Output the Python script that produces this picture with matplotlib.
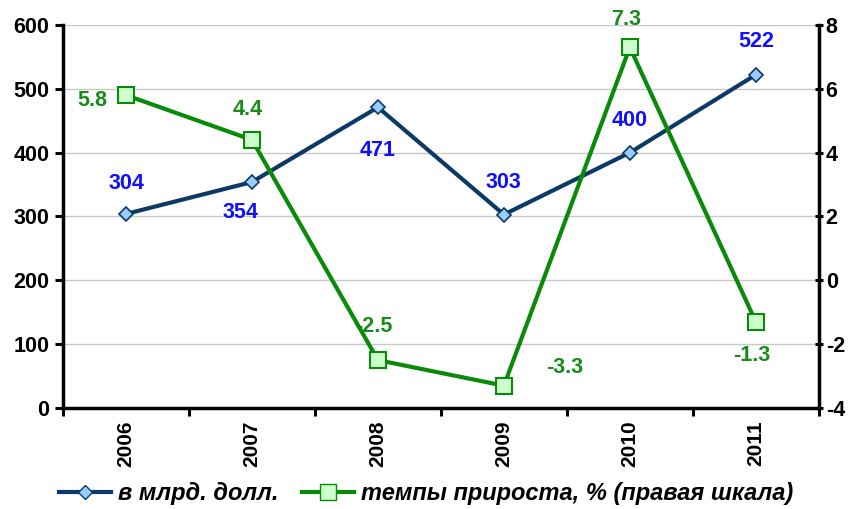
import matplotlib
matplotlib.use("Agg")
import matplotlib.pyplot as plt
from matplotlib.lines import Line2D

plt.rcParams['font.family'] = ['Liberation Sans', 'DejaVu Sans']
plt.rcParams['axes.unicode_minus'] = False

years = ["2006", "2007", "2008", "2009", "2010", "2011"]
volume = [304, 354, 471, 303, 400, 522]
growth = [5.8, 4.4, -2.5, -3.3, 7.3, -1.3]
left_ticks = [0, 100, 200, 300, 400, 500, 600]
right_ticks = [-4, -2, 0, 2, 4, 6, 8]

navy = "#0b3a66"
green = "#0a8a0a"
label_blue = "#1010ff"
label_green = "#1a8a1a"

fig = plt.figure(figsize=(8.53, 5.09), dpi=100)
ax = fig.add_axes([0.0739, 0.1984, 0.886, 0.7526])
ax2 = ax.twinx()

x = list(range(len(years)))
ax.set_xlim(-0.5, len(years) - 0.5)
ax.set_ylim(0, 600)
ax2.set_ylim(-4, 8)

ax.set_yticks(left_ticks)
ax2.set_yticks(right_ticks)
ax.grid(axis='y', color='#c8c8c8', linewidth=1)
ax.set_axisbelow(True)

ax.plot(x, volume, color=navy, linewidth=3, marker='D', markersize=7.5,
        markerfacecolor='#99ccff', markeredgecolor=navy, markeredgewidth=1.2,
        zorder=5)
ax2.plot(x, growth, color=green, linewidth=3, marker='s', markersize=11,
         markerfacecolor='#ccffcc', markeredgecolor=green, markeredgewidth=1.5,
         zorder=5)

# value labels
vol_off = [(0, 22), (-8, -22), (0, -31), (0, 23), (0, 23), (0, 24)]
for xi, v, (dx, dy) in zip(x, volume, vol_off):
    ax.annotate(f"{v}", (xi, v), xytext=(dx, dy), textcoords='offset points',
                ha='center', va='center', fontsize=15.5, fontweight='bold',
                color=label_blue)
gr_off = [(-24, -4), (-3, 22), (-3, 24), (44, 13), (-3, 20), (-3, -24)]
for xi, g, (dx, dy) in zip(x, growth, gr_off):
    ax2.annotate(f"{g}", (xi, g), xytext=(dx, dy), textcoords='offset points',
                 ha='center', va='center', fontsize=15.5, fontweight='bold',
                 color=label_green)

# axes styling
for a in (ax, ax2):
    for s in a.spines.values():
        s.set_visible(False)
ax.spines['left'].set_visible(True)
ax.spines['left'].set_linewidth(2.5)
ax.spines['bottom'].set_visible(True)
ax.spines['bottom'].set_linewidth(2.5)
ax2.spines['right'].set_visible(True)
ax2.spines['right'].set_linewidth(2.5)

ax.set_xticks([i - 0.5 for i in range(len(years) + 1)], minor=False)
ax.set_xticklabels([])
ax.tick_params(axis='x', which='major', length=6, width=2.2, direction='out')
ax.set_xticks(x, minor=True)
ax.set_xticklabels(years, minor=True, rotation=90, fontsize=15,
                   fontweight='bold')
ax.tick_params(axis='x', which='minor', length=0, pad=9)

ax.tick_params(axis='y', length=6, width=2.2, labelsize=15.5, pad=4)
ax2.tick_params(axis='y', length=6, width=2.2, direction='inout',
                labelsize=15.5, pad=2)
for lbl in ax.get_yticklabels() + ax2.get_yticklabels():
    lbl.set_fontweight('bold')

handles = [
    Line2D([], [], color=navy, linewidth=3, marker='D', markersize=7.5,
           markerfacecolor='#99ccff', markeredgecolor=navy),
    Line2D([], [], color=green, linewidth=3, marker='s', markersize=11,
           markerfacecolor='#ccffcc', markeredgecolor=green),
]
fig.legend(handles, ["в млрд. долл.", "темпы прироста, % (правая шкала)"],
           loc='center', bbox_to_anchor=(0.5, 0.03), ncol=2, frameon=False,
           prop={'family': ['Liberation Sans Narrow', 'Liberation Sans'],
                 'size': 17, 'weight': 'bold', 'style': 'italic'},
           handlelength=2.2, columnspacing=1.0, handletextpad=0.3)

fig.savefig("out.png", dpi=100)
